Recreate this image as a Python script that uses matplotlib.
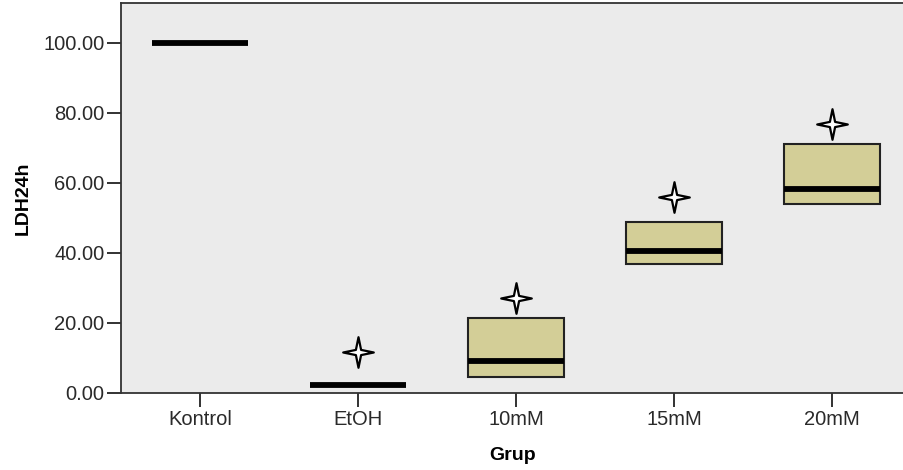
import matplotlib
matplotlib.use("Agg")
import matplotlib.pyplot as plt
from matplotlib.path import Path

plt.rcParams['font.family'] = ['Liberation Sans', 'DejaVu Sans']

groups = ["Kontrol", "EtOH", "10mM", "15mM", "20mM"]
q1 = [100.0, 2.3, 4.7, 36.8, 53.9]
median = [100.0, 2.3, 9.2, 40.7, 58.4]
q3 = [100.0, 2.3, 21.3, 48.9, 71.1]
extremes = [[], [11.7], [27.0], [55.9], [76.9]]
yticks = [0, 20, 40, 60, 80, 100]

stats = []
for g, lo, med, hi, ex in zip(groups, q1, median, q3, extremes):
    stats.append(dict(label=g, q1=lo, med=med, q3=hi, whislo=lo, whishi=hi,
                      fliers=ex, mean=med))

# four-pointed star used for extreme values
k = 0.17
pts = [(0, 1), (k, k), (1, 0), (k, -k), (0, -1),
       (-k, -k), (-1, 0), (-k, k), (0, 1)]
codes = [Path.MOVETO] + [Path.LINETO] * 7 + [Path.CLOSEPOLY]
star = Path(pts, codes)

fig = plt.figure(figsize=(9.04, 4.70), dpi=100)
ax = fig.add_axes([121 / 904, 77 / 470, 783 / 904, 390 / 470])
ax.set_facecolor("#EBEBEB")

ax.bxp(stats, positions=range(len(groups)), widths=0.61, patch_artist=True,
       showcaps=False,
       boxprops=dict(facecolor="#D3CE97", edgecolor="#222222", linewidth=1.5),
       medianprops=dict(color="black", linewidth=4.2, solid_capstyle="butt"),
       whiskerprops=dict(linewidth=0),
       flierprops=dict(marker=star, markersize=22, markerfacecolor="white",
                       markeredgecolor="black", markeredgewidth=1.6,
                       linestyle="none"))

ax.set_xlim(-0.5, 4.456)
ax.set_ylim(0, 111.4)
ax.set_yticks(yticks)
ax.set_yticklabels([f"{v:.2f}" for v in yticks])
ax.set_xticks(range(len(groups)))
ax.set_xticklabels(groups)

ax.tick_params(axis="both", direction="out", length=10, width=1.3,
               color="#222222", labelsize=14.5, labelcolor="#2a2a2a", pad=2)
for s in ["left", "bottom", "top"]:
    ax.spines[s].set_color("#333333")
    ax.spines[s].set_linewidth(1.3)
ax.spines["right"].set_visible(False)

ax.set_ylabel("LDH24h", fontsize=14, fontweight="bold", labelpad=8)
ax.set_xlabel("Grup", fontsize=14, fontweight="bold", labelpad=13)

fig.savefig("out.png", dpi=100)
